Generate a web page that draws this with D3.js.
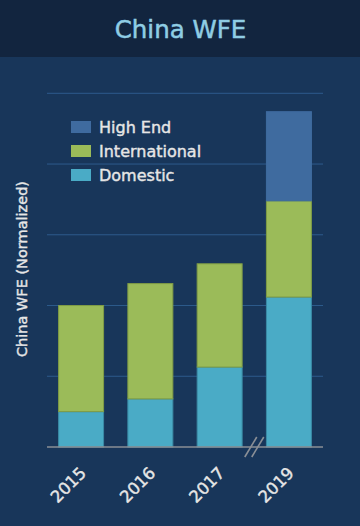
<!DOCTYPE html>
<html><head><meta charset="utf-8">
<script src="https://cdn.jsdelivr.net/npm/d3@7"></script>
<style>html,body{margin:0;padding:0;background:#18365a;}svg{display:block;}</style>
</head><body>
<script>
const years = ["2015","2016","2017","2019"];
const seriesNames = ["Domestic","International","High End"];
const domestic = [0.5, 0.68, 1.13, 2.12];
const international = [1.5, 1.63, 1.46, 1.36];
const highEnd = [0, 0, 0, 1.26];
const yTicks = [0,1,2,3,4,5];
const colors = {"Domestic":"#4aabc6","International":"#9bbb59","High End":"#3f6b9f"};
const strokes = {"Domestic":"#3a8aa5","International":"#7f9c45","High End":"#3f6b9f"};

const W=360,H=526;
const svg=d3.select("body").append("svg").attr("width",W).attr("height",H);
svg.append("rect").attr("width",W).attr("height",H).attr("fill","#18365a");
svg.append("rect").attr("width",W).attr("height",57).attr("fill","#12253f");
svg.append("text").attr("x",180.5).attr("y",38).attr("text-anchor","middle")
  .attr("font-family","DejaVu Sans").attr("font-size",24.5).attr("fill","#8fcde4")
  .attr("stroke","#8fcde4").attr("stroke-width",0.5).text("China WFE");

const m={l:47,r:323,t:93.3,b:447};
const x=d3.scaleBand().domain(years).range([m.l,m.r]).paddingInner(0.336).paddingOuter(0.16);
const y=d3.scaleLinear().domain([0,5]).range([m.b,m.t]);

svg.append("g").selectAll("line").data(yTicks.slice(1)).join("line")
  .attr("x1",m.l).attr("x2",m.r).attr("y1",d=>y(d)).attr("y2",d=>y(d))
  .attr("stroke","#2d5b8c").attr("stroke-width",1);

const data=years.map((yr,i)=>({year:yr,"Domestic":domestic[i],"International":international[i],"High End":highEnd[i]}));
const stack=d3.stack().keys(seriesNames)(data);
svg.append("g").selectAll("g").data(stack).join("g")
  .selectAll("rect").data(s=>s.map(d=>({key:s.key,d}))).join("rect")
  .filter(o=>o.d[1]-o.d[0]>0)
  .attr("x",o=>x(o.d.data.year)+0.5).attr("width",x.bandwidth()-1)
  .attr("y",o=>y(o.d[1])).attr("height",o=>y(o.d[0])-y(o.d[1]))
  .attr("fill",o=>colors[o.key]).attr("stroke",o=>strokes[o.key]).attr("stroke-width",1);

// baseline axis
const xAxis=d3.axisBottom(x).tickSize(0).tickPadding(0);
const gx=svg.append("g").attr("transform",`translate(0,${m.b})`).call(xAxis);
gx.select(".domain").remove();
svg.append("line").attr("x1",m.l).attr("x2",m.r).attr("y1",m.b).attr("y2",m.b).attr("stroke","#8a8f96").attr("stroke-width",1.5);
gx.selectAll("text").attr("font-family","DejaVu Sans").attr("font-size",16.5).attr("fill","#e6e6e6")
  .attr("stroke","#e6e6e6").attr("stroke-width",0.4)
  .attr("text-anchor","end")
  .attr("transform",`translate(2,${23}) rotate(-45)`)
  .attr("x",0).attr("y",0).attr("dx",0).attr("dy","0.35em");

// break mark
const bx=(x("2017")+x.bandwidth()+x("2019"))/2;
[-3.5,3.5].forEach(o=>svg.append("line").attr("x1",bx+o-6).attr("y1",m.b+10).attr("x2",bx+o+6).attr("y2",m.b-10)
  .attr("stroke","#8a8f96").attr("stroke-width",1.6));

// y label
svg.append("text").attr("transform",`translate(27,${269}) rotate(-90)`).attr("text-anchor","middle")
  .attr("font-family","DejaVu Sans").attr("font-size",14.5).attr("fill","#e6e6e6")
  .attr("stroke","#e6e6e6").attr("stroke-width",0.4).text("China WFE (Normalized)");

// legend
const leg=[...seriesNames].reverse();
const lg=svg.append("g").attr("transform","translate(71,121)");
leg.forEach((k,i)=>{
  lg.append("rect").attr("x",0).attr("y",i*24).attr("width",20).attr("height",12).attr("fill",colors[k]);
  lg.append("text").attr("x",28).attr("y",i*24+6).attr("dy","0.35em").attr("font-family","DejaVu Sans")
    .attr("font-size",16).attr("fill","#e6e6e6").attr("stroke","#e6e6e6").attr("stroke-width",0.4).text(k);
});
</script>
</body></html>
